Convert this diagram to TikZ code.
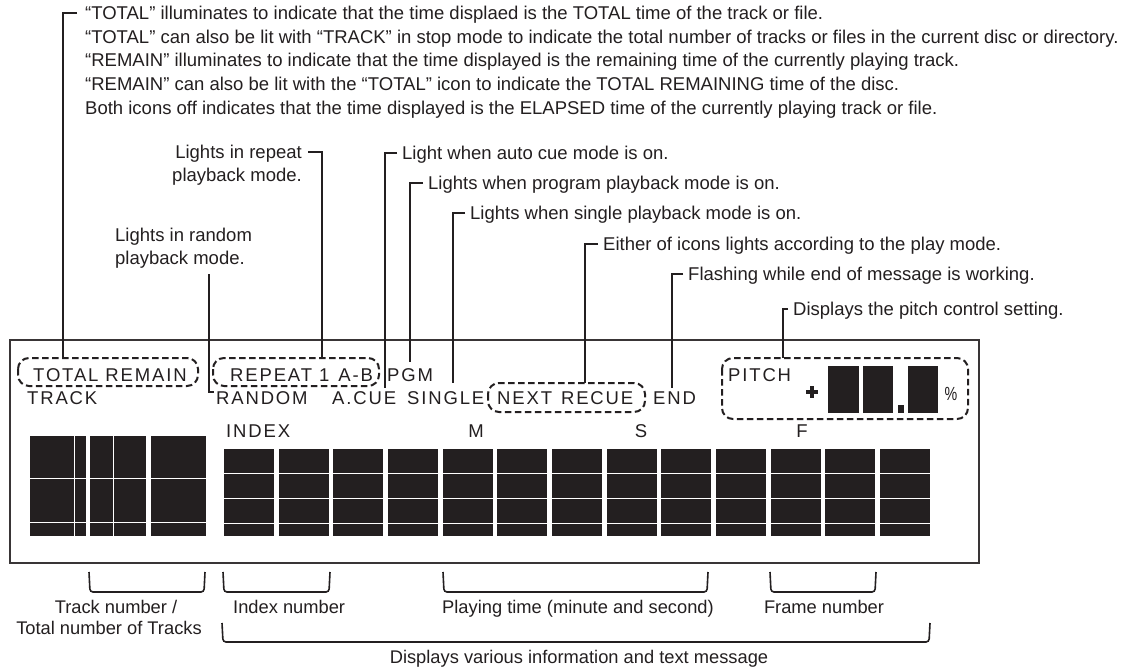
\documentclass[tikz,border=0pt]{standalone}
\usepackage{fontspec}
\setmainfont{Liberation Sans}
\newfontfamily\lcdfont[LetterSpace=10]{Liberation Sans}
\definecolor{ink}{HTML}{231F20}
\begin{document}
\begin{tikzpicture}[x=1pt,y=-1pt,
  ann/.style={font=\fontsize{18.5}{22}\selectfont, text=ink, inner sep=0pt, anchor=base west},
  annr/.style={ann, anchor=base east},
  lcd/.style={font=\lcdfont\fontsize{18.5}{20}\selectfont, text=ink, inner sep=0pt, anchor=base west},
  lcdc/.style={lcd, anchor=base},
  lead/.style={draw=ink, line width=2.6pt},
  dashbox/.style={draw=ink, line width=2pt, dash pattern=on 6.5pt off 3.5pt, rounded corners=11pt},
  seg/.style={fill=ink},
  gap/.style={draw=white, line width=1pt},
  brace/.style={draw=ink, line width=1.6pt, rounded corners=3pt},
  blab/.style={font=\fontsize{18.3}{22}\selectfont, text=ink, inner sep=0pt, anchor=base}]
\useasboundingbox (0,0) rectangle (1142,668);
\fill[white] (0,0) rectangle (1142,668);

% ---- top annotation lines
\node[ann] (t1) at (85,19.5) {“TOTAL” illuminates to indicate that the time displaed is the TOTAL time of the track or file.};
\node[ann] (t2) at (85,43.2) {“TOTAL” can also be lit with “TRACK” in stop mode to indicate the total number of tracks or files in the current disc or directory.};
\node[ann] (t3) at (85,66.9) {“REMAIN” illuminates to indicate that the time displayed is the remaining time of the currently playing track.};
\node[ann] (t4) at (85,90.6) {“REMAIN” can also be lit with the “TOTAL” icon to indicate the TOTAL REMAINING time of the disc.};
\node[ann] (t5) at (85,114.3) {Both icons off indicates that the time displayed is the ELAPSED time of the currently playing track or file.};

\node[annr] (rep1) at (302,158.5) {Lights in repeat};
\node[annr] (rep2) at (302,182) {playback mode.};
\node[ann] (rnd1) at (115,241) {Lights in random};
\node[ann] (rnd2) at (115,264.5) {playback mode.};

\node[ann] (acue) at (402,159.5) {Light when auto cue mode is on.};
\node[ann] (pgm) at (428,189.5) {Lights when program playback mode is on.};
\node[ann] (sgl) at (470,219.5) {Lights when single playback mode is on.};
\node[ann] (nxt) at (603,250.5) {Either of icons lights according to the play mode.};
\node[ann] (fls) at (688,280.5) {Flashing while end of message is working.};
\node[ann] (pit) at (793,315.5) {Displays the pitch control setting.};

% ---- display frame
\draw[draw=ink!90, line width=2.5pt] (10,340) rectangle (979,563);

% ---- display texts
\node[lcd] (dTotal) at (33,381) {TOTAL REMAIN};
\node[lcd] (dTrack) at (27,404) {TRACK};
\node[lcd] (dRepeat) at (230,381) {REPEAT 1\hspace{9pt}A-B};
\node[lcd] (dPgm) at (387,381) {PGM};
\node[lcd] (dRandom) at (216,404) {RANDOM};
\node[lcd] (dAcue) at (332,404) {A.CUE};
\node[lcd] (dSingle) at (407,404) {SINGLE};
\node[lcd] (dNext) at (497,404) {NEXT\hspace{9pt}RECUE};
\node[lcd] (dEnd) at (653,404) {END};
\node[lcd] (dPitch) at (728,381) {PITCH};
\node[lcd] (dIndex) at (226,437) {INDEX};
\node[lcdc] (dM) at (476,437) {M};
\node[lcdc] (dS) at (641,437) {S};
\node[lcdc] (dF) at (802,437) {F};

% dashed groups
\draw[dashbox] (18,358) rectangle (198,386);
\draw[dashbox] (213,358) rectangle (379,386);
\draw[dashbox] (488,383) rectangle (645,412);
\draw[dashbox] (722,358) rectangle (968,419);

% pitch readout
\fill[ink] (806,389.8) rectangle (818,394.2);
\fill[ink] (809.8,386) rectangle (814.2,398);
\fill[seg] (828,366) rectangle (859,413);
\fill[seg] (863,366) rectangle (893,413);
\fill[seg] (898,405) rectangle (904,413);
\fill[seg] (908,366) rectangle (938,413);
\node[font=\fontsize{19}{20}\selectfont, text=ink, inner sep=0pt, anchor=base] (dPct) at (951,400) {\scalebox{0.75}[1]{\%}};

% track digits
\fill[seg] (30,436) rectangle (86,536);
\fill[seg] (90,436) rectangle (146,536);
\fill[seg] (151,436) rectangle (206,536);
\draw[gap] (30,478) -- (206,478);
\draw[gap] (30,522) -- (206,522);
\draw[gap] (74,436) -- (74,536);
\draw[gap] (113,436) -- (113,536);

% main digits
\foreach \i in {0,...,12}{
  \fill[seg] ({224+54.67*\i},449) rectangle ++(50,87);
}
\draw[gap] (224,473.5) -- (930,473.5);
\draw[gap] (224,498.5) -- (930,498.5);
\draw[gap] (224,523.5) -- (930,523.5);

% ---- leader end points
\coordinate (cTotal) at (63,358);
\coordinate (cRepeat) at (322,358);
\coordinate (cRndTop) at (209,274);
\coordinate (cRnd) at (214,392);
\coordinate (cAcue) at (385,388);
\coordinate (cPgm) at (410,362);
\coordinate (cSgl) at (453,383);
\coordinate (cNext) at (585,383);
\coordinate (cEnd) at (672,388);
\coordinate (cPitch) at (783,358);

\draw[lead] ([xshift=-8pt,yshift=6.5pt]t1.base west) -| (cTotal);
\draw[lead] ([xshift=6pt,yshift=6.5pt]rep1.base east) -| (cRepeat);
\draw[lead] (cRndTop) |- (cRnd);
\draw[lead] ([xshift=-5pt,yshift=6.5pt]acue.base west) -| (cAcue);
\draw[lead] ([xshift=-5pt,yshift=6.5pt]pgm.base west) -| (cPgm);
\draw[lead] ([xshift=-5pt,yshift=6.5pt]sgl.base west) -| (cSgl);
\draw[lead] ([xshift=-5pt,yshift=6.5pt]nxt.base west) -| (cNext);
\draw[lead] ([xshift=-5pt,yshift=6.5pt]fls.base west) -| (cEnd);
\draw[lead] ([xshift=-5pt,yshift=6.5pt]pit.base west) -| (cPitch);

% ---- bottom brackets
\draw[brace] (89,572) -- (90,592) -- (204,592) -- (205,572);
\draw[brace] (223,572) -- (224,592) -- (329,592) -- (330,572);
\draw[brace] (443,572) -- (444,592) -- (707,592) -- (708,572);
\draw[brace] (770,572) -- (771,592) -- (875,592) -- (876,572);
\draw[brace] (222,623) -- (223,642) -- (929,642) -- (930,623);

\node[blab] (bTrack1) at (116,613) {Track number /};
\node[blab] (bTrack2) at (109,634) {Total number of Tracks};
\node[blab, anchor=base west] (bIndex) at (233,613) {Index number};
\node[blab] (bPlay) at (578,613) {Playing time (minute and second)};
\node[blab] (bFrame) at (824,613) {Frame number};
\node[blab] (bAll) at (579,663) {Displays various information and text message};
\end{tikzpicture}
\end{document}
